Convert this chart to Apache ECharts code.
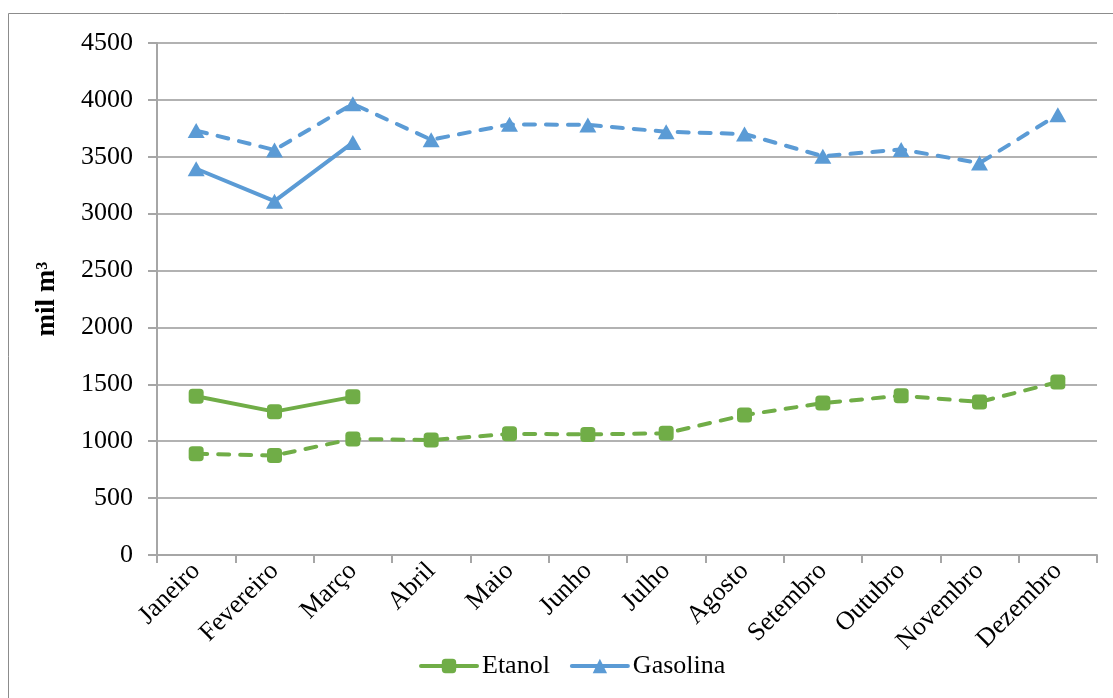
<!DOCTYPE html>
<html>
<head>
<meta charset="utf-8">
<script src="https://cdn.jsdelivr.net/npm/echarts@6/dist/echarts.min.js"></script>
<style>
  html, body { margin: 0; padding: 0; background: #fff; }
  #chart { width: 1113px; height: 698px; }
</style>
</head>
<body>
<div id="chart"></div>
<script>
// Monthly volumes (mil m³)
const months = ['Janeiro', 'Fevereiro', 'Março', 'Abril', 'Maio', 'Junho',
                'Julho', 'Agosto', 'Setembro', 'Outubro', 'Novembro', 'Dezembro'];

// Current year (first three months only)
const etanolAtual   = [1395, 1260, 1390];
const gasolinaAtual = [3395, 3110, 3625];

// Previous year, full twelve months
const etanolAnterior   = [890, 875, 1020, 1010, 1065, 1060, 1070, 1230, 1335, 1400, 1345, 1520];
const gasolinaAnterior = [3730, 3560, 3965, 3650, 3785, 3780, 3720, 3700, 3505, 3565, 3445, 3870];

const yTicks = { min: 0, max: 4500, interval: 500 };

const serif = "'Liberation Serif', 'Times New Roman', serif";
const green = '#70AD47';
const blue = '#5B9BD5';
const dashed = [11, 11];

function lineSeries(name, data, color, symbol, size, dash) {
  return {
    name: name,
    type: 'line',
    data: data,
    symbol: symbol,
    symbolSize: size,
    showSymbol: true,
    itemStyle: { color: color },
    lineStyle: { color: color, width: 4, type: dash ? dashed : 'solid', cap: 'round', join: 'round' },
    emphasis: { disabled: true },
    animation: false
  };
}

const chart = echarts.init(document.getElementById('chart'), null, { renderer: 'canvas' });
chart.setOption({
  backgroundColor: '#fff',
  textStyle: { fontFamily: serif },
  graphic: [{
    type: 'rect',
    shape: { x: 8.5, y: 13.5, width: 1200, height: 800 },
    style: { fill: 'none', stroke: '#8c8c8c', lineWidth: 1 },
    silent: true
  }],
  grid: { left: 157, right: 16, top: 43, bottom: 143 },
  legend: {
    bottom: 14,
    left: 414,
    itemWidth: 56,
    itemHeight: 18,
    itemGap: 20,
    textStyle: { fontFamily: serif, fontSize: 26, color: '#000' },
    lineStyle: { type: 'solid', width: 4 },
    data: ['Etanol', 'Gasolina']
  },
  xAxis: {
    type: 'category',
    data: months,
    boundaryGap: true,
    axisLine: { lineStyle: { color: '#a6a6a6', width: 2 } },
    axisTick: { show: true, length: 8, lineStyle: { color: '#a6a6a6', width: 2 } },
    axisLabel: { rotate: 45, fontFamily: serif, fontSize: 26, color: '#000', margin: 12, interval: 0 },
    splitLine: { show: false }
  },
  yAxis: {
    type: 'value',
    min: yTicks.min,
    max: yTicks.max,
    interval: yTicks.interval,
    name: 'mil m³',
    nameLocation: 'middle',
    nameGap: 96,
    nameRotate: 90,
    nameTextStyle: { fontFamily: serif, fontSize: 27, fontWeight: 'bold', color: '#000' },
    axisLine: { show: true, lineStyle: { color: '#a6a6a6', width: 2 } },
    axisTick: { show: true, length: 9, lineStyle: { color: '#a6a6a6', width: 2 } },
    axisLabel: { fontFamily: serif, fontSize: 26, color: '#000', margin: 24, formatter: (v) => String(v) },
    splitLine: { lineStyle: { color: '#999', width: 1.5 } }
  },
  series: [
    lineSeries('Etanol', etanolAtual, green, 'roundRect', 15, false),
    lineSeries('Etanol', etanolAnterior, green, 'roundRect', 15, true),
    lineSeries('Gasolina', gasolinaAtual, blue, 'triangle', [17, 15], false),
    lineSeries('Gasolina', gasolinaAnterior, blue, 'triangle', [17, 15], true)
  ]
});
</script>
</body>
</html>
